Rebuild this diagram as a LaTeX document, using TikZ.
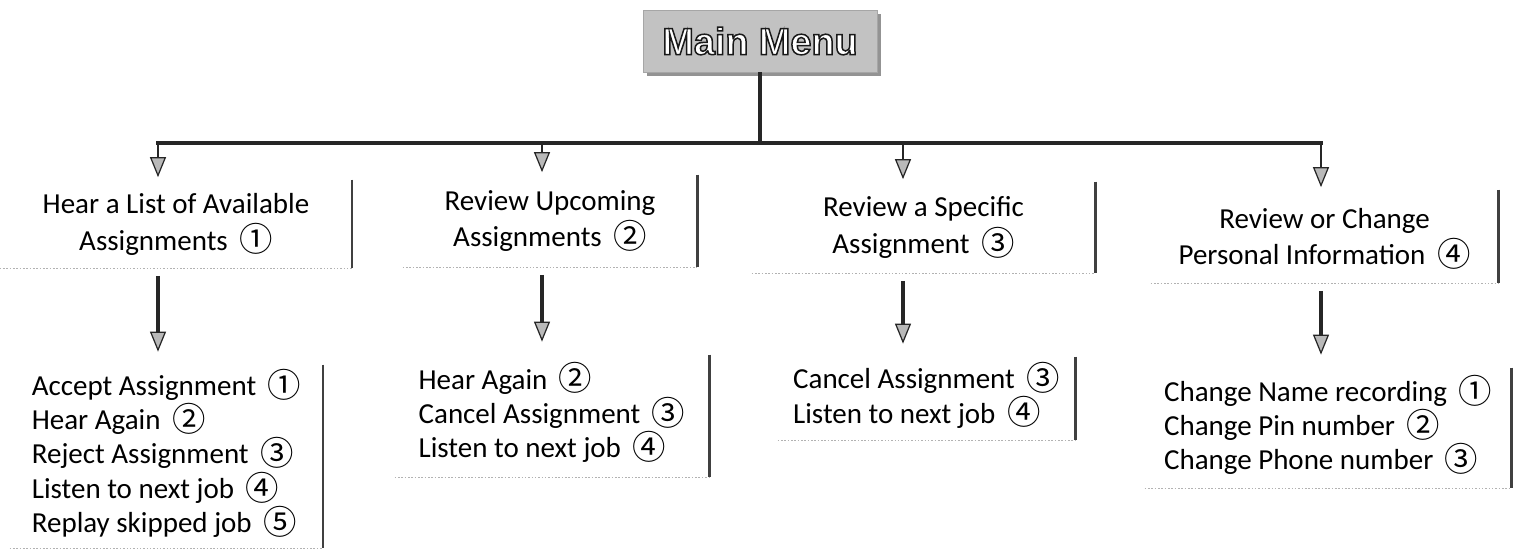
\documentclass[tikz,border=0pt]{standalone}
\usepackage{fontspec}
\setmainfont{Carlito}
\newfontfamily\circfont{Noto Sans CJK JP}
\newfontfamily\menufont{Liberation Sans}
\usetikzlibrary{arrows.meta, shadows}
\newcommand{\circnum}[1]{\hspace{0.1cm}\smash{\raisebox{-1pt}{\circfont\fontsize{19}{20}\selectfont #1}}}
\newcommand{\outlined}[1]{{\color{white}\special{pdf:literal direct 0.1 G 0.85 w 2 Tr}#1\special{pdf:literal direct 0 Tr}}}
\tikzset{
    menubox/.style={fill=gray!48, draw=gray!70, minimum width=4.68cm, minimum height=1.24cm,
        drop shadow={shadow xshift=0.07cm, shadow yshift=-0.07cm, fill=gray!85, opacity=1}},
    optbox/.style={inner sep=0pt, font=\fontsize{16.5}{19.5}\selectfont},
    headbox/.style={optbox, align=center, font=\fontsize{16.5}{21}\selectfont},
    rightedge/.style={line width=1.3pt, black!75},
    bottomedge/.style={line width=0.9pt, gray!60, densely dotted},
    busline/.style={line width=2.2pt, black!85},
    downarrow/.style={line width=1.5pt, black!85,
        -{Triangle[length=0.4cm, width=0.32cm, line width=0.7pt, fill=gray!55]}}
}

\begin{document}
\begin{tikzpicture}
    \useasboundingbox (0,0) rectangle (30.36,-11.02);
    \node[menubox, font=\menufont\bfseries\fontsize{21.5}{25}\selectfont] (menu) at (15.2,-0.82)
        {\outlined{Main Menu}};
    % corners of the bus line
    \coordinate (k1) at (3.16,-2.86);
    \coordinate (k2) at (10.84,-2.86);
    \coordinate (k3) at (18.06,-2.86);
    \coordinate (k4) at (26.42,-2.86);
    % first level
    \node[headbox, minimum width=7.04cm, minimum height=1.76cm] (hear) at (3.52,-4.48)
        {Hear a List of Available\\Assignments \circnum{①}};
    \node[headbox, minimum width=5.88cm, minimum height=1.84cm] (upcoming) at (11.0,-4.42)
        {Review Upcoming\\Assignments \circnum{②}};
    \node[headbox, minimum width=6.86cm, minimum height=1.82cm] (specific) at (18.47,-4.55)
        {Review a Specific\\Assignment \circnum{③}};
    \node[headbox, minimum width=6.94cm, minimum height=1.86cm] (personal) at (26.49,-4.73)
        {Review or Change\\Personal Information \circnum{④}};
    % second level
    \node[optbox, align=left, minimum width=6.26cm, minimum height=3.66cm] (hearopts) at (3.33,-9.13)
        {Accept Assignment \circnum{①}\\Hear Again \circnum{②}\\Reject Assignment \circnum{③}\\
         Listen to next job \circnum{④}\\Replay skipped job \circnum{⑤}};
    \node[optbox, align=left, minimum width=6.28cm, minimum height=2.44cm] (upcomingopts) at (11.04,-8.32)
        {Hear Again \circnum{②}\\Cancel Assignment \circnum{③}\\Listen to next job \circnum{④}};
    \node[optbox, align=left, minimum width=5.94cm, minimum height=1.66cm] (specificopts) at (18.53,-7.97)
        {Cancel Assignment \circnum{③}\\Listen to next job \circnum{④}};
    \node[optbox, align=left, minimum width=7.32cm, minimum height=2.4cm] (personalopts) at (26.56,-8.56)
        {Change Name recording \circnum{①}\\Change Pin number \circnum{②}\\Change Phone number \circnum{③}};
    \foreach \b in {hear, upcoming, specific, personal, hearopts, upcomingopts, specificopts, personalopts} {
        \draw[bottomedge] (\b.south west) -- (\b.south east);
        \draw[rightedge] (\b.north east) -- (\b.south east);
    }
    % connectors
    \draw[busline] (menu.south) -- (menu.south |- k1);
    \draw[busline, line cap=rect] (k1) -- (k4);
    \foreach \i/\b in {1/hear, 2/upcoming, 3/specific, 4/personal} {
        \draw[downarrow, shorten >=0.05cm] (k\i) -- (k\i |- \b.north);
        \draw[downarrow, line width=2pt, shorten <=0.15cm, shorten >=0.26cm]
            (k\i |- \b.south) -- (k\i |- \b opts.north);
    }
\end{tikzpicture}
\end{document}
